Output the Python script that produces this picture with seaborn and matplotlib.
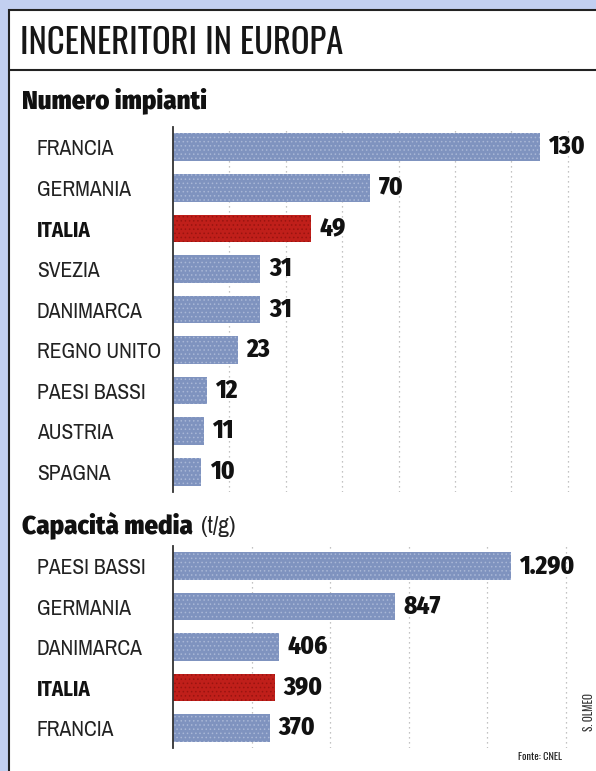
import numpy as np
import pandas as pd
import seaborn as sns
import matplotlib.pyplot as plt
from matplotlib.patches import Rectangle
from matplotlib.lines import Line2D

# dati
paesi_impianti = ['FRANCIA', 'GERMANIA', 'ITALIA', 'SVEZIA', 'DANIMARCA',
                  'REGNO UNITO', 'PAESI BASSI', 'AUSTRIA', 'SPAGNA']
num_impianti = [130, 70, 49, 31, 31, 23, 12, 11, 10]

paesi_capacita = ['PAESI BASSI', 'GERMANIA', 'DANIMARCA', 'ITALIA', 'FRANCIA']
capacita_media = [1290, 847, 406, 390, 370]

griglia_impianti = [20, 40, 60, 80, 100, 120, 140]
griglia_capacita = [300, 600, 900, 1200, 1500]

BLU = '#7f93bf'
ROSSO = '#c01f1a'
NARROW = ['Archivo Narrow', 'Liberation Sans', 'DejaVu Sans']
HEAVY = ['Fira Sans Condensed', 'Liberation Sans', 'DejaVu Sans']
TITOLO = ['Oswald', 'Barlow Condensed', 'DejaVu Sans']
BLACK = ['Fira Sans', 'Liberation Sans', 'DejaVu Sans']

sns.set_theme(style='white')
plt.rcParams['font.family'] = NARROW
plt.rcParams['hatch.linewidth'] = 0.6

W, H = 596, 771
fig = plt.figure(figsize=(W / 100, H / 100), dpi=100)
fig.patch.set_facecolor('#c2cff0')

def fx(px):
    return px / W

def fy(py):
    return 1 - py / H

# pannello bianco
fig.patches.append(Rectangle((fx(9), fy(790)), fx(600), fy(10) - fy(790),
                             transform=fig.transFigure, facecolor='white',
                             edgecolor='#222222', linewidth=1.5, zorder=-5))
fig.lines.append(Line2D([fx(9), fx(596)], [fy(70), fy(70)],
                        transform=fig.transFigure, color='#222222', linewidth=1.5))

fig.text(fx(20), fy(43), 'INCENERITORI IN EUROPA', fontsize=25, fontweight=500,
         va='center', ha='left', color='#161616', family=TITOLO)
fig.text(fx(22), fy(101), 'Numero impianti', fontsize=17.5, fontweight=900,
         va='center', ha='left', color='#111111', family=BLACK)
t = fig.text(fx(22), fy(525), 'Capacità media', fontsize=17.5, fontweight=900,
             va='center', ha='left', color='#111111', family=BLACK)
fig.text(fx(540), fy(757), 'Fonte: CNEL', fontsize=7.5, va='center', ha='center',
         color='#222222', family=TITOLO)
fig.text(fx(589), fy(712), 'S. OLMEO', fontsize=8, va='center', ha='center',
         rotation=90, color='#333333', family=TITOLO)


def pannello(ax, paesi, valori, griglia, xmax):
    df = pd.DataFrame({'paese': paesi, 'valore': valori})
    colori = {p: (ROSSO if p == 'ITALIA' else BLU) for p in paesi}
    sns.barplot(data=df, y='paese', x='valore', hue='paese', palette=colori,
                orient='h', width=0.68, legend=False, saturation=1, ax=ax)
    for p, nome in zip(ax.patches, paesi):
        p.set_linewidth(0)
        p.set_hatch('....')
        p.set_edgecolor('#a9b7d6' if nome != 'ITALIA' else '#9a1410')
    ax.set_xlim(0, xmax)
    ax.set_xticks(griglia)
    ax.set_xticklabels([])
    ax.tick_params(axis='x', length=0)
    ax.grid(axis='x', linestyle=(0, (1, 3)), color='#b0b0b0', linewidth=0.9)
    ax.set_axisbelow(True)
    ax.set_xlabel('')
    ax.set_ylabel('')
    ax.patch.set_alpha(0)
    for s in ['top', 'right', 'bottom']:
        ax.spines[s].set_visible(False)
    ax.spines['left'].set_color('#333333')
    ax.spines['left'].set_linewidth(1.3)
    ax.tick_params(axis='y', length=0, pad=98, labelsize=15.5, labelcolor='#222222')
    for lbl in ax.get_yticklabels():
        lbl.set_horizontalalignment('left')
        lbl.set_family(NARROW)
        if lbl.get_text() == 'ITALIA':
            lbl.set_family(HEAVY)
            lbl.set_fontweight(700)
            lbl.set_fontsize(15)
            lbl.set_color('#111111')
    etichette = [f'{v:,}'.replace(',', '.') for v in valori]
    for b, e in zip(ax.patches, etichette):
        ax.text(b.get_width() + xmax * 0.02, b.get_y() + b.get_height() / 2, e,
                va='center', ha='left', fontsize=18, fontweight=800,
                color='#111111', family=HEAVY)


ax1 = fig.add_axes([fx(173), fy(492), fx(596) - fx(173), fy(127) - fy(492)])
pannello(ax1, paesi_impianti, num_impianti, griglia_impianti, 150)

ax2 = fig.add_axes([fx(173), fy(748), fx(596) - fx(173), fy(546) - fy(748)])
pannello(ax2, paesi_capacita, capacita_media, griglia_capacita, 1614)

ax2.annotate('(t/g)', xy=(1, 0.45), xycoords=t, xytext=(6, 0),
             textcoords='offset points', va='center', ha='left', fontsize=17,
             color='#222222', family=NARROW, annotation_clip=False)

fig.savefig('out.png', dpi=100, facecolor=fig.get_facecolor())
